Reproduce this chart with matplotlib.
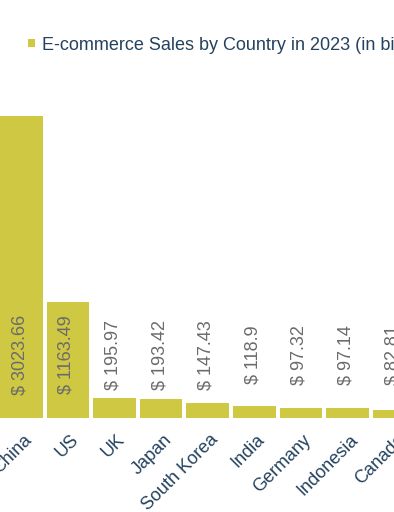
import matplotlib.pyplot as plt
import matplotlib.transforms as mtransforms

plt.rcParams['font.family'] = ['Liberation Sans', 'DejaVu Sans']

# E-commerce sales 2023, billions USD
countries = ['China', 'US', 'UK', 'Japan', 'South Korea', 'India', 'Germany', 'Indonesia', 'Canada']
sales = [3023.66, 1163.49, 195.97, 193.42, 147.43, 118.9, 97.32, 97.14, 82.81]

bar_color = '#cec842'
text_blue = '#24425e'
label_gray = '#6b6b6b'

fig = plt.figure(figsize=(3.94, 5.12), dpi=100)
ax = fig.add_axes([0, 94 / 512, 1, 350 / 512])

x = list(range(len(countries)))
bars = ax.bar(x, sales, width=0.915, color=bar_color,
              label='E-commerce Sales by Country in 2023 (in billion USD)')

# value labels sit at a fixed height, rotated
for xi, v in zip(x, sales):
    ax.text(xi - 0.03, 630, '$ ' + str(v), rotation=90, ha='center', va='center',
            fontsize=13, color=label_gray)

ax.set_xlim(-0.457, 7.92)
ax.set_ylim(0, 3500)
ax.set_xticks(x)
ax.set_xticklabels(countries, rotation=45, ha='right', va='center',
                   rotation_mode='anchor', fontsize=13, color=text_blue)
ax.tick_params(axis='x', length=0, pad=14)
# nudge tick labels to the right a bit
shift = mtransforms.ScaledTranslation(8 / 100, 0, fig.dpi_scale_trans)
for lbl in ax.get_xticklabels():
    lbl.set_transform(lbl.get_transform() + shift)
ax.set_yticks([])
for s in ax.spines.values():
    s.set_visible(False)

leg = ax.legend(loc='center left', bbox_to_anchor=(28 / 394, 1 - 45 / 512),
                bbox_transform=fig.transFigure, frameon=False, fontsize=13,
                handlelength=0.38, handleheight=0.38, handletextpad=0.38,
                borderpad=0, borderaxespad=0)
for t in leg.get_texts():
    t.set_color(text_blue)

plt.savefig('out.png', dpi=100)
